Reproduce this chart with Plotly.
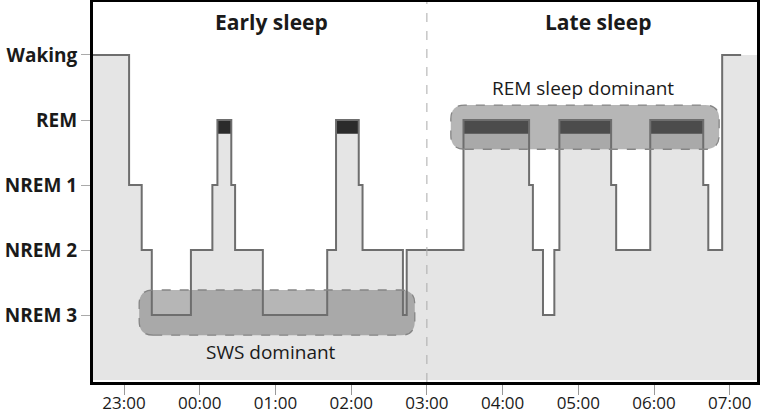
import plotly.graph_objects as go

# hypnogram: clock time of each stage change, and the stage entered there
change_times = ["22:35", "23:04", "23:14", "23:22", "23:53", "00:10", "00:14", "00:25",
                "00:28", "00:50", "01:41", "01:48", "02:06", "02:09", "02:41", "02:44",
                "03:29", "04:21", "04:24", "04:32", "04:41", "04:45", "05:26", "05:30",
                "05:57", "06:39", "06:43", "06:54", "07:09"]
stages = ["Waking", "NREM 1", "NREM 2", "NREM 3", "NREM 2", "NREM 1", "REM", "NREM 1",
          "NREM 2", "NREM 3", "NREM 2", "REM", "NREM 1", "NREM 2", "NREM 3", "NREM 2",
          "REM", "NREM 1", "NREM 2", "NREM 3", "NREM 2", "REM", "NREM 1", "NREM 2",
          "REM", "NREM 1", "NREM 2", "Waking", "Waking"]

stage_names = ["NREM 3", "NREM 2", "NREM 1", "REM", "Waking"]
tick_labels = ["23:00", "00:00", "01:00", "02:00", "03:00", "04:00", "05:00", "06:00", "07:00"]


def to_hours(s):
    h, m = s.split(":")
    h = int(h) + int(m) / 60
    return h - 24 if h >= 12 else h


level = {name: i + 1 for i, name in enumerate(stage_names)}
x = [to_hours(t) for t in change_times]
y = [level[s] for s in stages]

X_RANGE = [-1.41, 7.36]
Y_RANGE = [-0.03, 5.815]
FONT = "Open Sans"

fig = go.Figure()

# grey area under the hypnogram (runs on to the right edge at Waking)
fig.add_trace(go.Scatter(
    x=[X_RANGE[0]] + x[1:] + [X_RANGE[1]], y=y + [y[-1]], mode="lines", line_shape="hv",
    line=dict(width=0), fill="tozeroy", fillcolor="#e5e5e5", hoverinfo="skip"))

# dark caps on REM periods
bx, by = [], []
for i, s in enumerate(stages[:-1]):
    if s == "REM":
        x0, x1 = x[i], x[i + 1]
        top, bot = level["REM"], level["REM"] - 0.21
        bx += [x0, x1, x1, x0, x0, None]
        by += [top, top, bot, bot, top, None]
fig.add_trace(go.Scatter(x=bx, y=by, mode="lines", line=dict(width=0),
                         fill="toself", fillcolor="#2b2b2b", hoverinfo="skip"))

fig.add_trace(go.Scatter(x=x, y=y, mode="lines", line_shape="hv",
                         line=dict(color="#6e6e6e", width=2)))


def rounded_rect(x0, x1, y0, y1, rx=0.185, ry=0.215):
    return (f"M {x0 + rx},{y0} L {x1 - rx},{y0} Q {x1},{y0} {x1},{y0 + ry} "
            f"L {x1},{y1 - ry} Q {x1},{y1} {x1 - rx},{y1} "
            f"L {x0 + rx},{y1} Q {x0},{y1} {x0},{y1 - ry} "
            f"L {x0},{y0 + ry} Q {x0},{y0} {x0 + rx},{y0} Z")


shapes = [
    dict(type="line", xref="x", yref="paper", x0=3, x1=3, y0=0, y1=1,
         line=dict(color="#aaaaaa", width=1, dash="dash"), layer="above"),
    dict(type="path", path=rounded_rect(-0.80, 2.84, 0.69, 1.385),
         fillcolor="rgba(110,110,110,0.5)",
         line=dict(color="#858585", width=1.3, dash="dash"), layer="above"),
    dict(type="path", path=rounded_rect(3.316, 6.86, 3.55, 4.23),
         fillcolor="rgba(110,110,110,0.5)",
         line=dict(color="#858585", width=1.3, dash="dash"), layer="above"),
]

annotations = [
    dict(x=0.95, y=5.51, text="<b>Early sleep</b>", font=dict(size=21)),
    dict(x=5.255, y=5.51, text="<b>Late sleep</b>", font=dict(size=21)),
    dict(x=0.94, y=0.43, text="SWS dominant", font=dict(size=19)),
    dict(x=5.06, y=4.49, text="REM sleep dominant", font=dict(size=19)),
]
for a in annotations:
    a.update(xref="x", yref="y", showarrow=False)
    a["font"].update(family=FONT, color="#1a1a1a")

fig.update_layout(
    width=762, height=414,
    margin=dict(l=93, r=5, t=2, b=32),
    paper_bgcolor="white", plot_bgcolor="white",
    showlegend=False,
    shapes=shapes, annotations=annotations,
    font=dict(family=FONT, color="#1a1a1a"),
)
fig.update_xaxes(
    range=X_RANGE, tickvals=list(range(-1, 8)), ticktext=tick_labels,
    showgrid=False, zeroline=False, automargin=False,
    showline=True, mirror=True, linecolor="black", linewidth=3,
    ticks="outside", ticklen=10, tickcolor="#999999", tickwidth=1,
    ticklabelstandoff=-6,
    tickfont=dict(size=17, family=FONT, color="#1a1a1a"),
)
fig.update_yaxes(
    range=Y_RANGE, tickvals=[level[n] for n in stage_names],
    ticktext=[f"<b>{n}</b>" for n in stage_names],
    showgrid=False, zeroline=False, automargin=False,
    showline=True, mirror=True, linecolor="black", linewidth=3,
    ticks="outside", ticklen=9, tickcolor="#aaaaaa", tickwidth=1,
    tickfont=dict(size=19, family=FONT, color="#1a1a1a"),
)

fig.write_html("out.html", config={"displayModeBar": False},
               post_script="document.body.style.margin = '0';")
